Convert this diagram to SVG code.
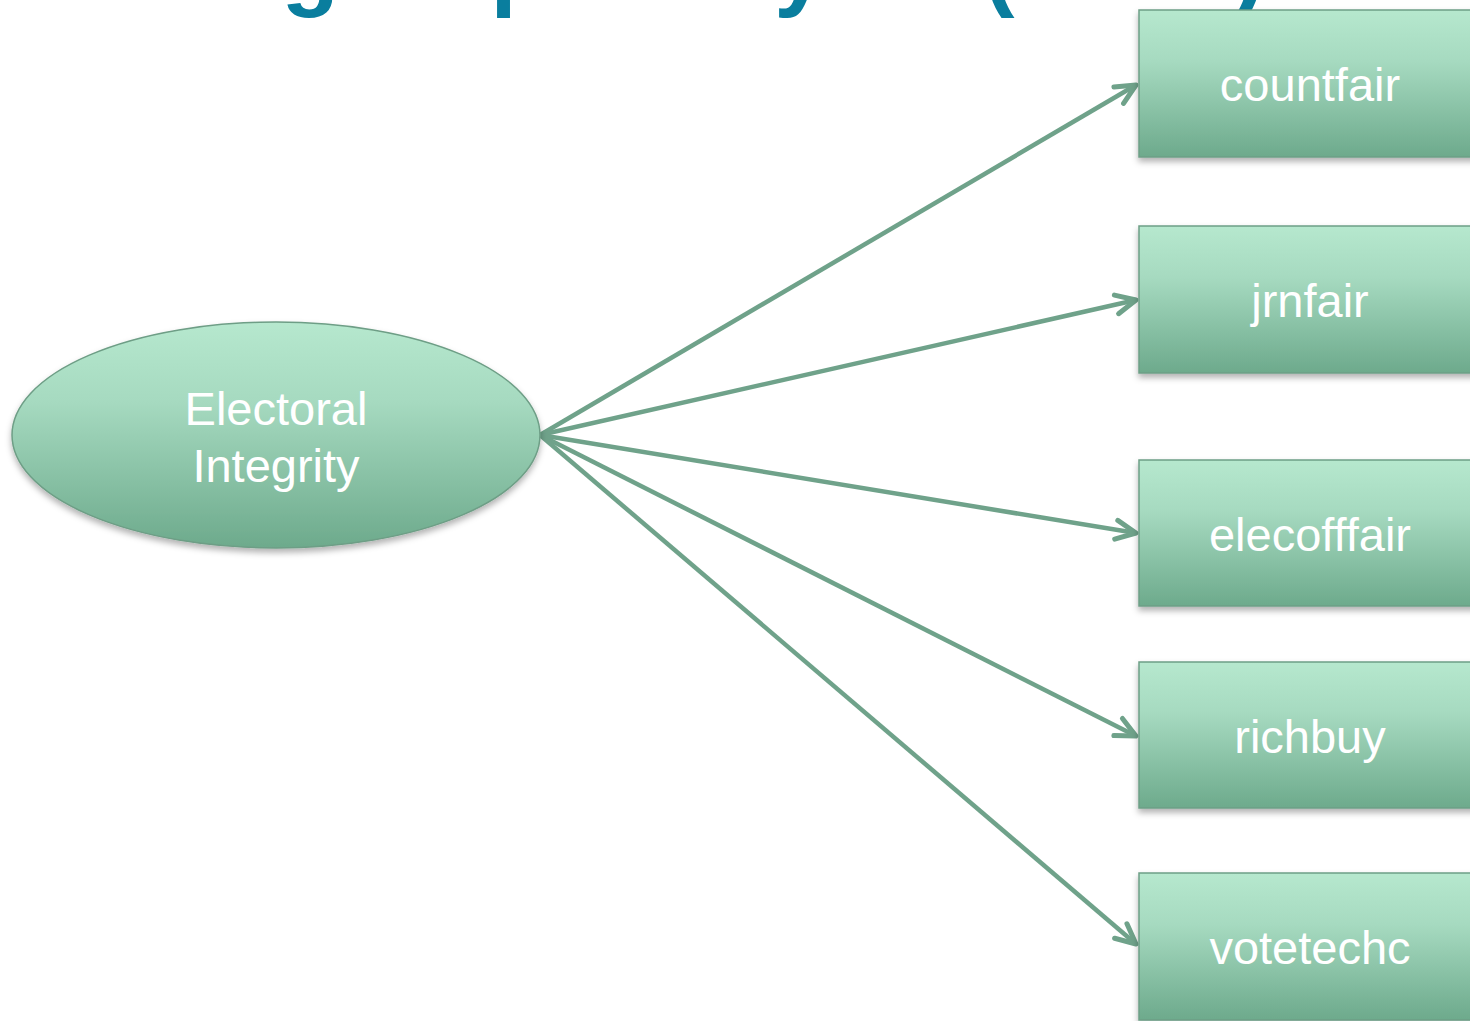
<svg xmlns="http://www.w3.org/2000/svg" width="1470" height="1021" viewBox="0 0 1470 1021">
  <style>
    .title { font-family: "Liberation Sans", Arial, sans-serif; font-weight: bold; font-size: 94px; fill: #0A7E9E; }
    .lbl { font-family: "Liberation Sans", Arial, sans-serif; font-size: 47px; fill: #ffffff; text-anchor: middle; }
    .node { fill: url(#g1); stroke: #6E9E86; stroke-width: 1.5; filter: url(#sh); }
    .edge { stroke: #6FA28A; stroke-width: 4.5; fill: none; marker-end: url(#arr); }
  </style>
  <defs>
    <linearGradient id="g1" x1="0" y1="0" x2="0" y2="1">
      <stop offset="0" stop-color="#B6E8CE"/>
      <stop offset="0.35" stop-color="#A6DAC0"/>
      <stop offset="1" stop-color="#6DAA8C"/>
    </linearGradient>
    <filter id="sh" x="-10%" y="-10%" width="120%" height="130%">
      <feDropShadow dx="0" dy="4" stdDeviation="3" flood-color="#000000" flood-opacity="0.3"/>
    </filter>
    <marker id="arr" markerUnits="userSpaceOnUse" viewBox="0 0 26 26" markerWidth="26" markerHeight="26" refX="23" refY="13" orient="auto">
      <path d="M3,3.5 L23,13 L3,22.5" fill="none" stroke="#6FA28A" stroke-width="5" stroke-linecap="round" stroke-linejoin="round"/>
    </marker>
  </defs>

  <text class="title" x="31" y="-2">Multi-group Analysis (MGA)</text>

  <g id="connectors">
    <line class="edge" x1="540" y1="435" x2="1136" y2="85"/>
    <line class="edge" x1="540" y1="435" x2="1136" y2="300"/>
    <line class="edge" x1="540" y1="435" x2="1136" y2="533"/>
    <line class="edge" x1="540" y1="435" x2="1136" y2="736"/>
    <line class="edge" x1="540" y1="435" x2="1136" y2="944"/>
  </g>

  <g id="electoral-integrity">
    <ellipse class="node" cx="276" cy="435" rx="264" ry="113"/>
    <text class="lbl" x="276" y="425">Electoral</text>
    <text class="lbl" x="276" y="482">Integrity</text>
  </g>

  <g id="countfair">
    <rect class="node" x="1139" y="10" width="345" height="147"/>
    <text class="lbl" x="1310" y="101">countfair</text>
  </g>
  <g id="jrnfair">
    <rect class="node" x="1139" y="226" width="345" height="147"/>
    <text class="lbl" x="1310" y="317">jrnfair</text>
  </g>
  <g id="elecofffair">
    <rect class="node" x="1139" y="460" width="345" height="146"/>
    <text class="lbl" x="1310" y="551">elecofffair</text>
  </g>
  <g id="richbuy">
    <rect class="node" x="1139" y="662" width="345" height="146"/>
    <text class="lbl" x="1310" y="753">richbuy</text>
  </g>
  <g id="votetechc">
    <rect class="node" x="1139" y="873" width="345" height="147"/>
    <text class="lbl" x="1310" y="964">votetechc</text>
  </g>
</svg>
